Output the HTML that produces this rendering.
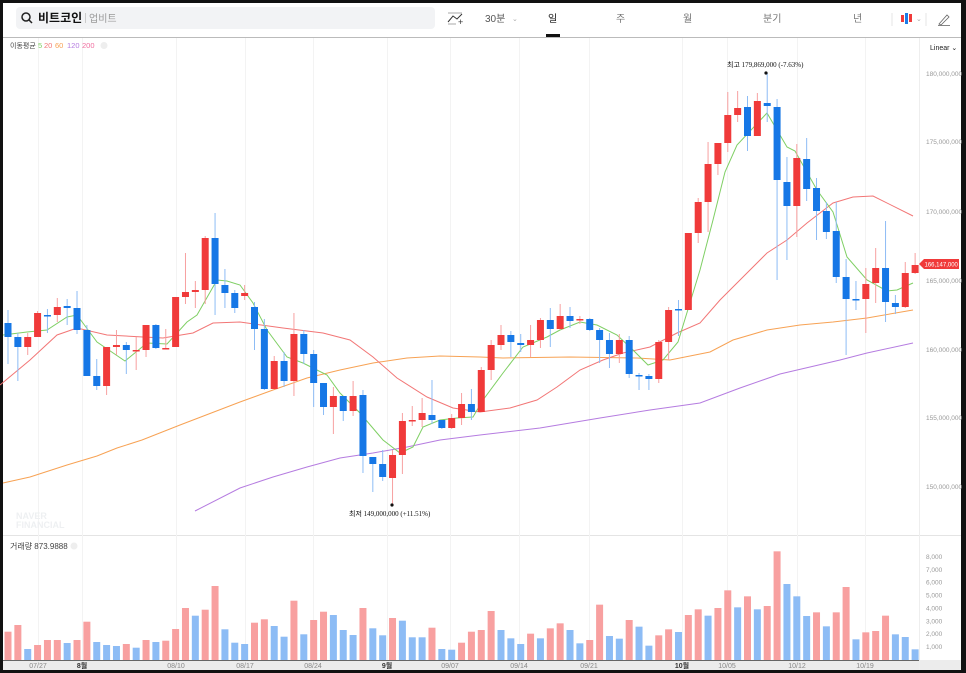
<!DOCTYPE html>
<html><head><meta charset="utf-8"><style>
html,body{margin:0;padding:0;background:#111;}
#w{position:relative;width:966px;height:673px;overflow:hidden;background:#111;font-family:"Liberation Sans","Noto Sans CJK KR",sans-serif;}
#in{position:absolute;left:3px;top:3px;width:958px;height:667px;background:#fff;}
</style></head><body><div id="w"><div id="in"></div>
<svg id="s" width="966" height="673" style="position:absolute;left:0;top:0" xmlns="http://www.w3.org/2000/svg">
<rect x="16" y="7" width="419" height="22" rx="4" fill="#f2f3f5"/>
<circle cx="26" cy="17" r="4" fill="none" stroke="#222" stroke-width="1.5"/><line x1="29" y1="20" x2="32" y2="23" stroke="#222" stroke-width="1.5"/>
<text x="38" y="22" font-size="12" font-weight="bold" fill="#111" font-family="Liberation Sans,Noto Sans CJK KR,sans-serif">비트코인</text>
<line x1="85.5" y1="13" x2="85.5" y2="23" stroke="#ccc"/>
<text x="89" y="22" font-size="10" fill="#999" font-family="Liberation Sans,Noto Sans CJK KR,sans-serif">업비트</text>
<polyline points="448,22 453,16 457,19 462,14" fill="none" stroke="#333" stroke-width="1"/><line x1="448" y1="13" x2="462" y2="13" stroke="#aaa"/><line x1="448" y1="24" x2="456" y2="24" stroke="#aaa"/>
<text x="458" y="25" font-size="9" fill="#333">+</text>
<text x="485" y="22" font-size="10" fill="#555" font-family="Liberation Sans,Noto Sans CJK KR,sans-serif">30분</text><text x="512" y="21" font-size="7" fill="#aaa">⌄</text>
<text x="548" y="22" font-size="10" fill="#111" font-family="Liberation Sans,Noto Sans CJK KR,sans-serif">일</text>
<rect x="546" y="34" width="14" height="3" fill="#111"/>
<text x="616" y="22" font-size="10" fill="#777" font-family="Liberation Sans,Noto Sans CJK KR,sans-serif">주</text>
<text x="683" y="22" font-size="10" fill="#777" font-family="Liberation Sans,Noto Sans CJK KR,sans-serif">월</text>
<text x="763" y="22" font-size="10" fill="#777" font-family="Liberation Sans,Noto Sans CJK KR,sans-serif">분기</text>
<text x="853" y="22" font-size="10" fill="#777" font-family="Liberation Sans,Noto Sans CJK KR,sans-serif">년</text>
<line x1="892" y1="13" x2="892" y2="26" stroke="#e5e5e5"/>
<rect x="901" y="15" width="3" height="7" fill="#f03a3a"/><rect x="905" y="13" width="3" height="11" fill="#1a7ce8"/><rect x="909" y="14" width="3" height="8" fill="#f03a3a"/>
<text x="916" y="21" font-size="7" fill="#aaa">⌄</text>
<line x1="926" y1="13" x2="926" y2="26" stroke="#e5e5e5"/>
<path d="M939 24 L947 15 L949 17 L941 25 Z" fill="none" stroke="#666" stroke-width="0.8"/><line x1="938" y1="25.5" x2="950" y2="25.5" stroke="#666" stroke-width="0.8"/>
<line x1="3" y1="37.5" x2="961" y2="37.5" stroke="#bbb"/>
<line x1="3" y1="535.5" x2="961" y2="535.5" stroke="#e4e4e4"/>
<rect x="3" y="660" width="958" height="10" fill="#ececec"/>
<line x1="3" y1="660.5" x2="920" y2="660.5" stroke="#666"/>
<g id="g"></g>
</svg>
</div>
<script>
var s=document.getElementById('g'),NS='http://www.w3.org/2000/svg';
function el(n,a,txt){var e=document.createElementNS(NS,n);for(var k in a)e.setAttribute(k,a[k]);if(txt!==undefined)e.textContent=txt;s.appendChild(e);return e;}
var F='Liberation Sans,Noto Sans CJK KR,sans-serif';
[38,82,176,245,313,387,450,519,589,682,727,797,865].forEach(function(x){el('line',{x1:x+.5,y1:38,x2:x+.5,y2:660,stroke:'#f3f3f3'});});
el('line',{x1:919.5,y1:38,x2:919.5,y2:670,stroke:'#eee'});
var C=[['B',323,337,310,364],['B',337,347,333,381],['R',337,347,333,355],['R',313,337,311,337],['B',315,316,309,333],['R',307,315,298,322],['B',306,308,299,325],['B',308,330,291,334],['B',330,376,325,376],['B',376,386,359,390],['R',347,386,347,395],['R',345,347,330,355],['B',345,350,342,374],['R',350,351,337,370],['R',325,350,325,357],['B',325,348,324,349],['R',348,349,329,349],['R',297,347,297,347],['R',292,297,253,304],['R',290,292,281,308],['R',238,290,236,304],['B',238,284,213,315],['B',285,293,269,308],['B',293,308,290,313],
['R',293,296,285,300],['B',307,329,302,350],['B',329,389,319,390],['R',361,389,356,389],['B',361,381,352,387],['R',334,381,313,396],['B',334,354,330,364],['B',354,383,350,407],['B',383,407,383,415],['R',396,407,387,434],['B',396,411,396,421],['R',396,411,381,416],['B',395,456,390,473],['B',457,464,457,492],['B',464,477,450,481],['R',455,478,450,504],['R',421,455,413,474],['R',420,421,406,426],['R',413,420,398,427],['B',415,420,380,424],['B',420,428,420,429],['R',418,428,414,429],['R',404,418,393,425],['B',404,412,389,420],
['R',370,412,367,412],['R',345,370,340,380],['R',335,345,325,350],['B',335,342,331,357],['B',343,345,334,352],['R',340,345,325,357],['R',320,340,318,348],['B',320,329,308,347],['R',316,329,304,330],['B',316,321,307,328],['R',319,320,316,324],['B',319,330,318,331],['B',330,340,328,363],['B',340,354,333,368],['R',340,354,334,363],['B',340,374,336,378],['B',375,376,373,390],['B',376,379,374,390],['R',342,379,340,383],['R',310,342,307,360],['B',309,310,300,336],['R',233,310,233,310],
['R',202,233,198,243],['R',164,202,142,232],['R',143,164,143,175],['R',115,143,92,152],['R',108,115,91,122],['B',107,136,96,151],['R',101,136,93,136],['B',103,106,73,122],['B',107,180,99,280],['B',182,206,157,260],['R',158,206,144,237],['B',159,189,138,201],['B',188,211,178,240],['B',211,232,202,239],['B',231,277,202,283],['B',277,299,259,355],['B',299,300,281,310],['R',284,299,268,333],['R',268,283,248,303],['B',268,302,221,322],['B',303,307,295,314],['R',273,307,262,308],['R',265,273,253,274]];
function X(i){return 8+9.86*i;}
var V1=[[631.7,'R'],[625,'R'],[649,'B'],[645,'R'],[640,'R'],[640,'R'],[643,'B'],[640,'R'],[621.7,'R'],[642,'B'],[645,'B'],[646,'B'],[644,'R'],[647.7,'B'],[640,'R'],[642,'B'],[640.7,'R'],[629,'R'],[608,'R'],[615.7,'B'],[609.7,'R'],[586,'R'],[629.3,'B'],[642.7,'B'],[644,'B'],[622.7,'R'],[619.3,'R'],[626,'B'],[636.7,'B'],[600.7,'R'],[634.3,'B'],[620,'R'],[611.7,'R'],[615,'B'],[630,'B'],[635,'B'],[608,'R'],[628.3,'B'],[635.3,'B'],[618,'R'],[620.7,'B'],[637.3,'B'],[637.3,'B'],[627.7,'R'],[649,'B'],[649.7,'B'],[642.7,'R'],[631.7,'R']];
var V2=[[300,'R'],[243,'R'],[300,'B'],[325,'B'],[342,'B'],[311,'R'],[325,'B'],[295,'R'],[280,'R'],[300,'B'],[340,'B'],[330,'R'],[224,'R'],[318,'B'],[326,'B'],[270,'R'],[290,'B'],[347,'B'],[316,'R'],[298,'R'],[306,'B'],[255,'R'],[238,'R'],[257,'B'],[234,'R'],[181,'R'],[232,'B'],[199,'R'],[238,'B'],[228,'R'],[64,'R'],[162,'B'],[199,'B'],[258,'B'],[247,'R'],[289,'B'],[247,'R'],[171,'R'],[328,'B'],[307,'R'],[303,'R'],[257,'R'],[313,'B'],[321,'B'],[358,'B']];
var V=V1.concat(V2.map(function(v){return [v[0]/3+530,v[1]];}));
V.forEach(function(v,i){el('rect',{x:X(i)-3.5,y:v[0],width:7,height:660-v[0],fill:v[1]=='R'?'#f8a0a0':'#8dbcf5'});});
function pl(p,c){el('polyline',{points:p,fill:'none',stroke:c,'stroke-width':1});}
pl('3,483 30,477 67,465 97,456 117,448 142,440 180,425 240,402 273,390 307,378 340,370 373,363 407,358 440,356 480,357 503,358 570,357 637,358 670,360 710,352 733,340 767,330 800,325 833,322 867,318 913,310','#f7a254');
pl('195,511 240,488 273,477 307,467 340,458 373,453 407,447 440,440 480,435 540,428 600,418 650,410 700,403 740,388 780,374 840,360 867,353 913,343','#b57ce0');
pl('0,385 30,360 57,335 77,328 107,335 143,337 163,338 193,333 213,323 240,322 283,328 323,333 350,340 373,357 397,378 427,397 453,408 480,412 510,408 537,400 557,387 580,370 603,360 623,353 650,347 677,333 700,323 720,300 743,277 767,253 787,240 807,223 833,203 853,197 873,196 913,216','#f27676');
pl('3,335 27,332 47,330 67,317 77,315 97,342 125,361 147,343 167,344 187,322 197,315 217,280 227,281 240,285 253,303 267,330 287,357 303,363 327,375 340,393 360,413 383,440 400,453 413,447 423,427 440,420 457,418 473,417 483,400 503,373 523,347 547,337 560,330 580,322 597,325 617,335 633,350 648,365 663,360 678,342 700,270 713,220 725,172 737,145 767,113 787,147 795,151 817,190 833,212 847,257 867,280 887,291 897,290 913,283','#7fcf64');
C.forEach(function(c,i){var x=X(i),r=c[0]=='R';var col=r?'#f03a3a':'#1677e6',wc=r?'#f7a0a0':'#8dbcf5';
el('line',{x1:x,y1:c[3],x2:x,y2:c[4],stroke:wc,'stroke-width':1});
el('rect',{x:x-3.5,y:c[1],width:7,height:Math.max(1.5,c[2]-c[1]),fill:col});});
[[180,74],[175,142],[170,212],[165,281],[160,350],[155,418],[150,487]].forEach(function(a){el('text',{x:926,y:a[1]+2,'font-size':6.5,fill:'#999','font-family':F},a[0]+',000,000');});
[8,7,6,5,4,3,2,1].forEach(function(k,j){el('text',{x:926,y:559+j*12.86,'font-size':6.5,fill:'#999','font-family':F},k+',000');});
el('text',{x:930,y:50,'font-size':7,fill:'#222','font-family':F},'Linear ⌄');
el('path',{d:'M919 264 L924 259 L959 259 L959 269 L924 269 Z',fill:'#f03a3a'});
el('text',{x:924.5,y:266.5,'font-size':6,fill:'#fff','font-family':F},'166,147,000');
[['07/27',38],['08/10',176],['08/17',245],['08/24',313],['09/07',450],['09/14',519],['09/21',589],['10/05',727],['10/12',797],['10/19',865]].forEach(function(a){el('text',{x:a[1],y:668,'font-size':7,fill:'#888','text-anchor':'middle','font-family':F},a[0]);});
[['8월',82],['9월',387],['10월',682]].forEach(function(a){el('text',{x:a[1],y:668,'font-size':7,fill:'#333','font-weight':'bold','text-anchor':'middle','font-family':F},a[0]);});
el('text',{x:10,y:48,'font-size':7,fill:'#444','font-family':F},'이동평균');
[['5','#7fcf64',38],['20','#f27676',44],['60','#f7a254',55],['120','#b57ce0',67],['200','#f06fa0',82]].forEach(function(a){el('text',{x:a[2],y:48,'font-size':7.5,fill:a[1],'font-family':F},a[0]);});
el('circle',{cx:104,cy:45.5,r:3.5,fill:'#eee'});
el('text',{x:10,y:549,'font-size':8,fill:'#444','font-family':F},'거래량 873.9888');
el('circle',{cx:74,cy:546,r:3.5,fill:'#eee'});
el('circle',{cx:766,cy:73,r:1.6,fill:'#111'});
el('text',{x:727,y:67,'font-size':7,fill:'#111','font-family':'Liberation Serif,Noto Sans CJK KR,serif'},'최고  179,869,000 (-7.63%)');
el('circle',{cx:392,cy:505,r:1.6,fill:'#111'});
el('text',{x:349,y:516,'font-size':7,fill:'#111','font-family':'Liberation Serif,Noto Sans CJK KR,serif'},'최저  149,000,000 (+11.51%)');
el('text',{x:16,y:519,'font-size':9,fill:'#eef0f2','font-weight':'bold','font-family':F},'NAVER');
el('text',{x:16,y:528,'font-size':9,fill:'#eef0f2','font-weight':'bold','font-family':F},'FINANCIAL');
</script>
</body></html>
